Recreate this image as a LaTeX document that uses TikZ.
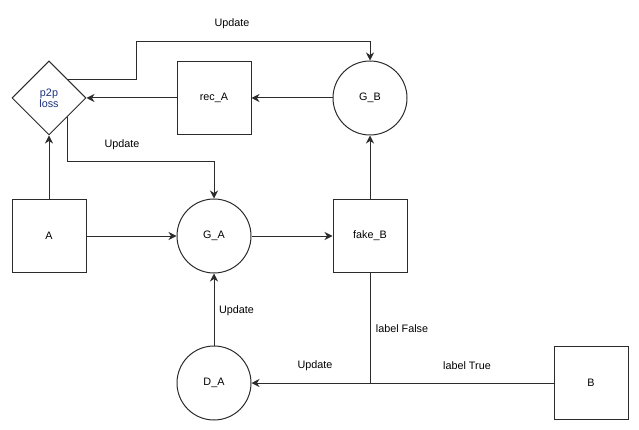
\documentclass[tikz,border=0pt]{standalone}
\usepackage{fontspec}
\setmainfont{Liberation Sans}
\usetikzlibrary{shapes.geometric,arrows.meta}
\definecolor{ln}{HTML}{2B2B2B}
\definecolor{navy}{HTML}{1A2F7A}
\begin{document}
\begin{tikzpicture}[x=1pt,y=-1pt,
  font=\fontsize{10.8}{12}\selectfont,
  every node/.append style={text=black},
  box/.style={draw=ln,line width=1pt,minimum width=74pt,minimum height=73pt,inner sep=0pt},
  circ/.style={draw=ln,line width=1pt,circle,minimum size=74pt,inner sep=0pt},
  dia/.style={draw=ln,line width=1pt,diamond,minimum width=74pt,minimum height=74pt,inner sep=0pt,align=center},
  conn/.style={draw=ln,line width=1pt},
  arr/.style={conn,-{Stealth[length=8pt,width=8pt,inset=2.5pt]}},
  lbl/.style={inner sep=0pt}]
\useasboundingbox (0,0) rectangle (639,430);

% nodes
\node[dia,text=navy] (p2p) at (49,98) {p2p\\[-1pt]loss};
\node[box] (reca) at (214,98) {rec\_A};
\node[circ] (gb) at (370,98) {G\_B};
\node[box] (a) at (49,236) {A};
\node[circ] (ga) at (214,236) {G\_A};
\node[box] (fb) at (370,236) {fake\_B};
\node[circ] (da) at (214,383) {D\_A};
\node[box] (b) at (591,383) {B};

% bends and junctions
\coordinate (u1) at (136,42);
\coordinate (u2) at (214,162);
\coordinate (j) at (370,383);

% connectors
\draw[arr] (a) -- (p2p);
\draw[arr] (reca) -- (p2p);
\draw[arr] (gb) -- (reca);
\draw[arr] (fb) -- (gb);
\draw[arr] (a) -- (ga);
\draw[arr] (ga) -- (fb);
\draw[arr] (da) -- (ga);
\draw[arr] (p2p.north east) -| (u1) -| (gb.north);
\draw[arr] (p2p.south east) |- (u2) -- (ga.north);
\draw[conn] (fb.south) -- (j);
\draw[conn] (b.west) -- (j);
\draw[arr] (j) -- (da);

% labels
\node[lbl] (t1) at (232,24) {Update};
\node[lbl] (t2) at (122,145) {Update};
\node[lbl] (t3) at (236.5,311) {Update};
\node[lbl] (t4) at (315,366) {Update};
\node[lbl] (t5) at (402,329) {label False};
\node[lbl] (t6) at (467,366) {label True};
\end{tikzpicture}
\end{document}
